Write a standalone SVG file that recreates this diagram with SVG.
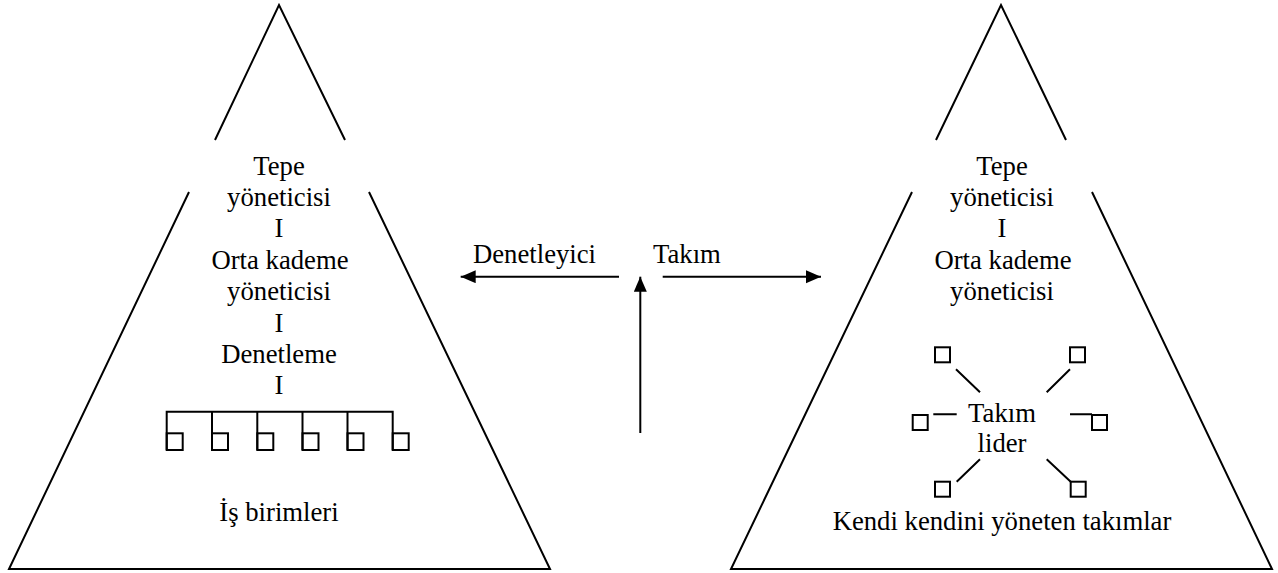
<svg xmlns="http://www.w3.org/2000/svg" width="1278" height="573" viewBox="0 0 1278 573">
<style>
.t{font-family:"Liberation Serif","Times New Roman",serif;font-size:26.7px;fill:#000;text-anchor:middle}
.s{font-family:"Liberation Serif","Times New Roman",serif;font-size:26.7px;fill:#000}
.ln{stroke:#000;stroke-width:2;fill:none}
.bx{stroke:#000;stroke-width:2;fill:#fff}
</style>
<defs>
<marker id="ah" markerUnits="userSpaceOnUse" markerWidth="16" markerHeight="14" refX="15" refY="6.5" orient="auto">
<path d="M0,0 L15,6.5 L0,13 Z" fill="#000"/>
</marker>
</defs>
<rect width="1278" height="573" fill="#fff"/>
<g id="left-pyramid">
<path class="ln" d="M215,140 L279,5 L345,140"/>
<path class="ln" d="M189,192 L9,569 L550,569 L369,192"/>
<text class="t" x="279" y="174.5">Tepe</text>
<text class="t" x="279" y="205.9">yöneticisi</text>
<text class="t" x="279" y="237.3">I</text>
<text class="t" x="280" y="268.7">Orta kademe</text>
<text class="t" x="279" y="300.1">yöneticisi</text>
<text class="t" x="279" y="331.5">I</text>
<text class="t" x="279" y="362.9">Denetleme</text>
<text class="t" x="279" y="394.3">I</text>
<g id="units">
<path class="ln" d="M166.7,450 V411.7 H392.7 V450 M212,411.7 V450 M257.3,411.7 V450 M302.5,411.7 V450 M347.5,411.7 V450"/>
<rect class="ln" x="166.7" y="433.3" width="16" height="16.7"/>
<rect class="ln" x="212" y="433.3" width="16" height="16.7"/>
<rect class="ln" x="257.3" y="433.3" width="16" height="16.7"/>
<rect class="ln" x="302.5" y="433.3" width="16" height="16.7"/>
<rect class="ln" x="347.5" y="433.3" width="16" height="16.7"/>
<rect class="ln" x="392.7" y="433.3" width="16" height="16.7"/>
</g>
<text class="t" x="279" y="521">İş birimleri</text>
</g>
<g id="right-pyramid">
<path class="ln" d="M936,140 L1001,5 L1066,140"/>
<path class="ln" d="M912,192 L731,569 L1272,569 L1092,192"/>
<text class="t" x="1002" y="174.5">Tepe</text>
<text class="t" x="1002" y="205.9">yöneticisi</text>
<text class="t" x="1002" y="237.3">I</text>
<text class="t" x="1003" y="268.7">Orta kademe</text>
<text class="t" x="1002" y="300.1">yöneticisi</text>
<g id="team">
<rect class="ln" x="935" y="347.3" width="15" height="15"/>
<rect class="ln" x="1070" y="347.3" width="15" height="15"/>
<rect class="ln" x="912.7" y="415" width="15" height="15"/>
<rect class="ln" x="1092" y="415" width="15" height="15"/>
<rect class="ln" x="935" y="481.7" width="15" height="15"/>
<rect class="ln" x="1070.7" y="481.7" width="15" height="15"/>
<path class="ln" d="M956,369.3 L980,392.3 M1046.7,392.3 L1070,369.3 M933.3,414.3 H956.7 M1070,414.3 H1092 M956.7,481.7 L980,459.3 M1046.7,459.3 L1070.7,481.7"/>
<text class="t" x="1002" y="421.7">Takım</text>
<text class="t" x="1002" y="452.3">lider</text>
</g>
<text class="t" x="1002" y="530">Kendi kendini yöneten takımlar</text>
</g>
<g id="connectors">
<line class="ln" x1="619" y1="276.7" x2="460.7" y2="276.7" marker-end="url(#ah)"/>
<line class="ln" x1="662.7" y1="276.7" x2="821" y2="276.7" marker-end="url(#ah)"/>
<line class="ln" x1="640.3" y1="433" x2="640.3" y2="276.7" marker-end="url(#ah)"/>
</g>
<text class="s" x="473" y="263.3">Denetleyici</text>
<text class="s" x="653" y="263.3">Takım</text>
</svg>
